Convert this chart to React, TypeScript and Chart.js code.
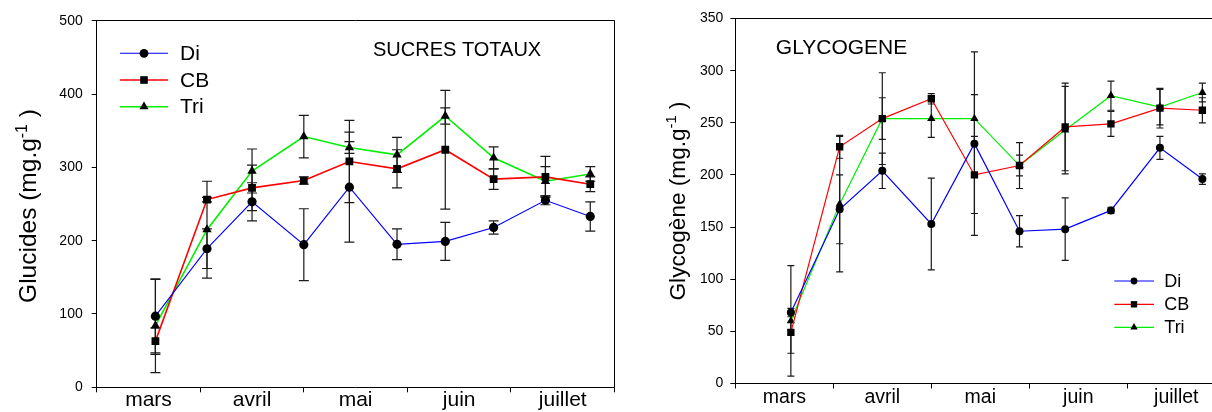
import React, { useEffect, useRef } from 'react';
import { Chart, registerables } from 'chart.js';

Chart.register(...registerables);

const FONT = '"Liberation Sans", Arial, Helvetica, sans-serif';

// Month categories along the x axis (one tick interval per month)
const monthLabels = ['mars', 'avril', 'mai', 'juin', 'juillet'];
// Sampling dates, expressed in months since the start of March
const sampleMonths = [0.567, 1.065, 1.5, 2.0, 2.44, 2.9, 3.366, 3.833, 4.333, 4.766];
const seriesNames = ['Di', 'CB', 'Tri'];
const seriesColors = ['#0000ff', '#ff0000', '#00ee00'];
const seriesMarkers = ['circle', 'rect', 'triangle'];

// SUCRES TOTAUX (Glucides, mg.g-1)
const sucresDi = [97, 189, 253, 194.5, 273, 195, 199, 218, 255, 233];
const sucresDiErr = [50, 27, 26, 49, 75, 21, 26, 9, 6, 20];
const sucresCB = [63, 256, 272, 282, 308, 298, 324, 284, 287, 277];
const sucresCBErr = [18, 3, 31, 5, 56, 26, 81, 14, 28, 10];
const sucresTri = [84, 215, 295, 342, 327, 317, 370, 313, 281, 291];
const sucresTriErr = [64, 66, 30, 29, 8, 24, 11, 15, 20, 10];
const sucresTicks = [0, 100, 200, 300, 400, 500];

// GLYCOGENE (Glycogène, mg.g-1)
const glycoDi = [68, 167, 204, 153, 230, 146, 148, 166, 226, 196];
const glycoDiErr = [4, 33, 17, 44, 88, 15, 30, 3, 11, 5];
const glycoCB = [49, 227, 254, 273, 200, 209, 246, 249, 264, 262];
const glycoCBErr = [20, 11, 20, 5, 37, 10, 42, 12, 19, 12];
const glycoTri = [60, 172, 254, 254, 254, 209, 243, 276, 265, 279];
const glycoTriErr = [53, 65, 44, 18, 23, 22, 42, 14, 17, 9];
const glycoTicks = [0, 50, 100, 150, 200, 250, 300, 350];

type PanelOpts = {
  values: number[][];
  errors: number[][];
  yTicks: number[];
  lineWidths: number[];
  markerRadius: number[];
  capHalf: number;
  yAxisWidth: number;
  padRight: number;
  padTop: number;
  xAxisHeight: number;
  yTickPad: number;
  xFontSize: number;
  xTickPad: number;
  title: string;
  titleX: number;
  titleY: number;
  titleSize: number;
  yTitle: string;
  yTitleBaseX: number;
  yTitleCenterY: number;
  yTitleSize: number;
  legend: { x1: number; x2: number; mx: number; tx: number; rows: number[]; size: number; r: number[] };
};

function drawMarker(ctx: CanvasRenderingContext2D, style: string, x: number, y: number, r: number) {
  ctx.beginPath();
  if (style === 'circle') {
    ctx.arc(x, y, r, 0, Math.PI * 2);
  } else if (style === 'rect') {
    const s = Math.SQRT1_2 * r;
    ctx.rect(x - s, y - s, 2 * s, 2 * s);
  } else {
    for (let k = 0; k < 3; k++) {
      const a = (k * 2 * Math.PI) / 3;
      const px = x + Math.sin(a) * r;
      const py = y - Math.cos(a) * r;
      if (k === 0) ctx.moveTo(px, py);
      else ctx.lineTo(px, py);
    }
    ctx.closePath();
  }
  ctx.fill();
}

function makeConfig(o: PanelOpts): any {
  const halfSteps: number[] = [];
  for (let i = 0; i <= monthLabels.length * 2; i++) halfSteps.push(i / 2);

  const datasets = seriesNames.map((name, s) => ({
    label: name,
    data: sampleMonths.map((x, i) => ({ x, y: o.values[s][i] })),
    errors: o.errors[s],
    borderColor: seriesColors[s],
    borderWidth: o.lineWidths[s],
    backgroundColor: '#000',
    pointStyle: seriesMarkers[s],
    pointRadius: o.markerRadius[s],
    pointBackgroundColor: '#000',
    pointBorderColor: '#000',
    pointBorderWidth: 0,
    tension: 0,
    fill: false,
  }));

  const errorBars = {
    id: 'errorBars',
    beforeDatasetsDraw(chart: any) {
      const { ctx, scales } = chart;
      const xs = scales.x;
      const ys = scales.y;
      ctx.save();
      ctx.strokeStyle = '#1a1a1a';
      ctx.lineWidth = 1.2;
      chart.data.datasets.forEach((ds: any) => {
        ds.data.forEach((p: any, i: number) => {
          const e = ds.errors[i];
          const px = xs.getPixelForValue(p.x);
          const yt = ys.getPixelForValue(p.y + e);
          const yb = ys.getPixelForValue(p.y - e);
          ctx.beginPath();
          ctx.moveTo(px, yt);
          ctx.lineTo(px, yb);
          ctx.moveTo(px - o.capHalf, yt);
          ctx.lineTo(px + o.capHalf, yt);
          ctx.moveTo(px - o.capHalf, yb);
          ctx.lineTo(px + o.capHalf, yb);
          ctx.stroke();
        });
      });
      ctx.restore();
    },
  };

  const decorations = {
    id: 'decorations',
    afterDraw(chart: any) {
      const { ctx, chartArea } = chart;
      ctx.save();
      // frame: top and right
      ctx.strokeStyle = '#000';
      ctx.lineWidth = 1;
      const top = Math.round(chartArea.top - 0.5) + 0.5;
      const right = Math.round(chartArea.right - 0.5) + 0.5;
      ctx.beginPath();
      ctx.moveTo(chartArea.left, top);
      ctx.lineTo(right, top);
      ctx.lineTo(right, chartArea.bottom);
      ctx.stroke();

      // title
      ctx.fillStyle = '#000';
      ctx.font = `${o.titleSize}px ${FONT}`;
      ctx.textBaseline = 'middle';
      ctx.textAlign = 'left';
      ctx.fillText(o.title, o.titleX, o.titleY);

      // legend
      const L = o.legend;
      chart.data.datasets.forEach((ds: any, s: number) => {
        const y = L.rows[s];
        ctx.strokeStyle = ds.borderColor;
        ctx.lineWidth = ds.borderWidth;
        ctx.beginPath();
        ctx.moveTo(L.x1, y);
        ctx.lineTo(L.x2, y);
        ctx.stroke();
        ctx.fillStyle = '#000';
        drawMarker(ctx, ds.pointStyle, L.mx, y, L.r[s]);
        ctx.font = `${L.size}px ${FONT}`;
        ctx.textBaseline = 'middle';
        ctx.fillText(ds.label, L.tx, y + 1);
      });

      // y axis title with superscript
      ctx.translate(o.yTitleBaseX, o.yTitleCenterY);
      ctx.rotate(-Math.PI / 2);
      ctx.textBaseline = 'alphabetic';
      const main = o.yTitle + ' (mg.g';
      const sup = '-1';
      const end = ' )';
      const supSize = o.yTitleSize * 0.65;
      ctx.font = `${o.yTitleSize}px ${FONT}`;
      const wMain = ctx.measureText(main).width;
      const wEnd = ctx.measureText(end).width;
      ctx.font = `${supSize}px ${FONT}`;
      const wSup = ctx.measureText(sup).width;
      let x = -(wMain + wSup + wEnd) / 2;
      ctx.font = `${o.yTitleSize}px ${FONT}`;
      ctx.fillText(main, x, 0);
      x += wMain;
      ctx.font = `${supSize}px ${FONT}`;
      ctx.fillText(sup, x, -o.yTitleSize * 0.38);
      x += wSup;
      ctx.font = `${o.yTitleSize}px ${FONT}`;
      ctx.fillText(end, x, 0);
      ctx.restore();
    },
  };

  const yMax = o.yTicks[o.yTicks.length - 1];
  const yStep = o.yTicks[1] - o.yTicks[0];

  return {
    type: 'line',
    data: { datasets },
    plugins: [errorBars, decorations],
    options: {
      animation: false,
      responsive: false,
      maintainAspectRatio: false,
      layout: { padding: { left: 0, right: o.padRight, top: o.padTop, bottom: 0 } },
      plugins: { legend: { display: false }, tooltip: { enabled: false }, title: { display: false } },
      scales: {
        x: {
          type: 'linear',
          min: 0,
          max: monthLabels.length,
          afterBuildTicks: (s: any) => {
            s.ticks = halfSteps.map((v) => ({ value: v }));
          },
          afterFit: (s: any) => {
            s.height = o.xAxisHeight;
          },
          ticks: {
            autoSkip: false,
            maxRotation: 0,
            minRotation: 0,
            padding: o.xTickPad,
            color: '#000',
            font: { family: FONT, size: o.xFontSize, lineHeight: 1 },
            callback: (v: number) => {
              const i = v - 0.5;
              return Number.isInteger(i) ? monthLabels[i] : '';
            },
          },
          grid: {
            drawOnChartArea: false,
            drawTicks: true,
            tickLength: 5,
            lineWidth: 1,
            color: (c: any) => (c.tick && Number.isInteger(c.tick.value) ? '#000' : 'rgba(0,0,0,0)'),
          },
          border: { display: true, color: '#000', width: 1 },
        },
        y: {
          type: 'linear',
          min: 0,
          max: yMax,
          afterFit: (s: any) => {
            s.width = o.yAxisWidth;
          },
          ticks: {
            stepSize: yStep,
            padding: o.yTickPad,
            color: '#000',
            font: { family: FONT, size: 14 },
          },
          grid: { drawOnChartArea: false, drawTicks: true, tickLength: 5, color: '#000', lineWidth: 1 },
          border: { display: true, color: '#000', width: 1 },
        },
      },
    },
  };
}

const leftOpts: PanelOpts = {
  values: [sucresDi, sucresCB, sucresTri],
  errors: [sucresDiErr, sucresCBErr, sucresTriErr],
  yTicks: sucresTicks,
  lineWidths: [1.1, 1.6, 1.6],
  markerRadius: [4.6, 5.5, 5.4],
  capHalf: 5,
  yAxisWidth: 96.7,
  padRight: 1,
  padTop: 20.7,
  xAxisHeight: 24.7,
  yTickPad: 9,
  xFontSize: 21,
  xTickPad: -3,
  title: 'SUCRES TOTAUX',
  titleX: 373,
  titleY: 50,
  titleSize: 20,
  yTitle: 'Glucides',
  yTitleBaseX: 36,
  yTitleCenterY: 206,
  yTitleSize: 24.5,
  legend: { x1: 120, x2: 168, mx: 144, tx: 180, rows: [53.3, 80, 106.7], size: 21, r: [4.4, 5.4, 5.2] },
};

const rightOpts: PanelOpts = {
  values: [glycoDi, glycoCB, glycoTri],
  errors: [glycoDiErr, glycoCBErr, glycoTriErr],
  yTicks: glycoTicks,
  lineWidths: [1.2, 1.2, 1.2],
  markerRadius: [4, 5.2, 4.8],
  capHalf: 3.5,
  yAxisWidth: 115.3,
  padRight: 34.7,
  padTop: 18.5,
  xAxisHeight: 28.5,
  yTickPad: 7,
  xFontSize: 19.5,
  xTickPad: -1,
  title: 'GLYCOGENE',
  titleX: 155.8,
  titleY: 48.3,
  titleSize: 21,
  yTitle: 'Glycogène',
  yTitleBaseX: 65,
  yTitleCenterY: 201,
  yTitleSize: 22.6,
  legend: { x1: 494.3, x2: 534, mx: 514, tx: 544.3, rows: [281, 304.3, 327.3], size: 18, r: [3.4, 4.5, 4.2] },
};

function Panel({ opts, left, width }: { opts: PanelOpts; left: number; width: number }) {
  const ref = useRef<HTMLCanvasElement>(null);
  useEffect(() => {
    if (!ref.current) return;
    const chart = new Chart(ref.current, makeConfig(opts));
    return () => chart.destroy();
  }, [opts]);
  return (
    <canvas
      ref={ref}
      width={width}
      height={412}
      style={{ position: 'absolute', left, top: 0, width, height: 412 }}
    />
  );
}

export default function App() {
  return (
    <div
      style={{
        position: 'fixed',
        left: 0,
        top: 0,
        width: 1212,
        height: 412,
        overflow: 'hidden',
        background: '#fff',
      }}
    >
      <Panel opts={leftOpts} left={0} width={620} />
      <Panel opts={rightOpts} left={620} width={640} />
    </div>
  );
}
